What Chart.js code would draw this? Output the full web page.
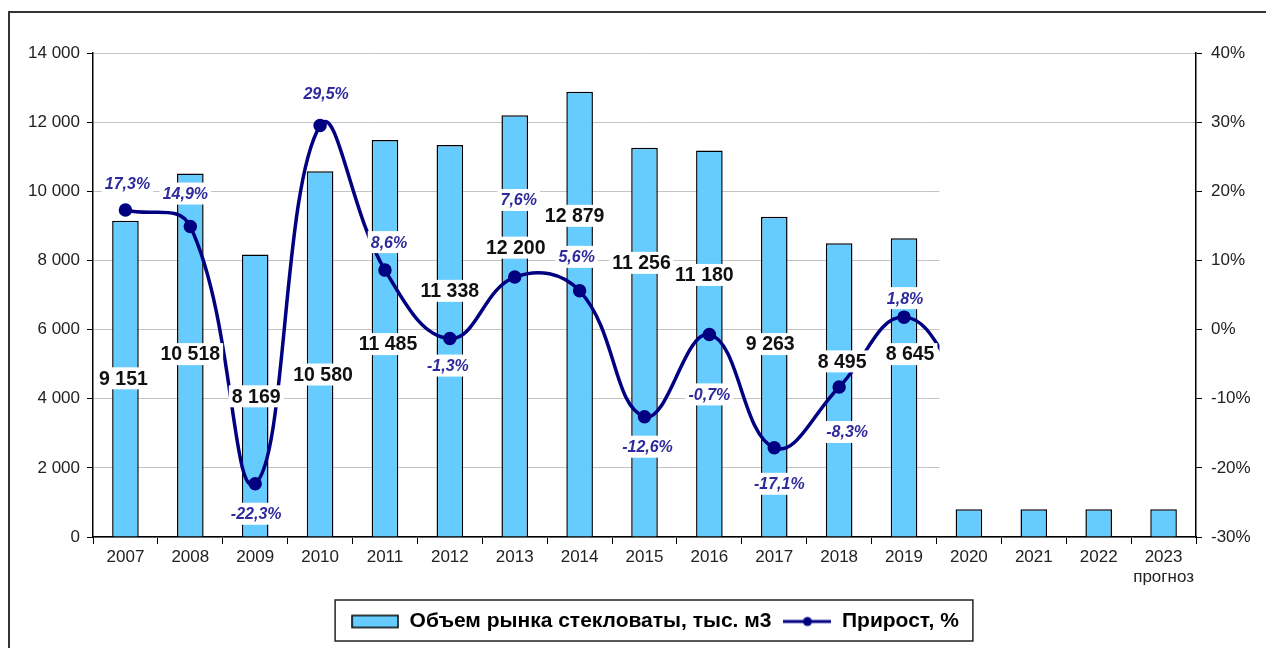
<!DOCTYPE html>
<html lang="ru">
<head>
<meta charset="utf-8">
<title>Объем рынка стекловаты</title>
<script src="https://cdn.jsdelivr.net/npm/chart.js@4.4.1/dist/chart.umd.min.js"></script>
<style>
  html, body { margin: 0; padding: 0; background: #fff; }
  #wrap { width: 1266px; height: 648px; position: relative; }
</style>
</head>
<body>
<div id="wrap"><canvas id="chart"></canvas></div>
<script>
// --- data ---
const years = ['2007', '2008', '2009', '2010', '2011', '2012', '2013', '2014', '2015',
    '2016', '2017', '2018', '2019', '2020', '2021', '2022', ['2023', 'прогноз']];
const volume = [9151, 10518, 8169, 10580, 11485, 11338, 12200, 12879, 11256,
    11180, 9263, 8495, 8645, 800, 800, 800, 800];
// 2020 point is hidden behind the blank patch, only its curve tail shows
const growth = [17.3, 14.9, -22.3, 29.5, 8.6, -1.3, 7.6, 5.6, -12.6,
    -0.7, -17.1, -8.3, 1.8, -9, null, null, null];
const volumeTicks = [0, 2000, 4000, 6000, 8000, 10000, 12000, 14000];
const growthTicks = [-30, -20, -10, 0, 10, 20, 30, 40];

// label placement (as in the source, labels were dragged by hand)
const barLabelAt = [4590, 5290, 4070, 4700, 5580, 7120, 8370, 9290, 7930, 7580, 5580, 5080, 5290];
const barLabelDx = [-2, 0, 1, 3, 3, 0, 1, -5, -3, -5, -4, 3, 6];
const growthLabelOff = [[2, -26], [-5, -33], [1, 30], [6, -32], [4, -28], [-2, 27], [4, -77],
    [-3, -34], [3, 30], [0, 60], [5, 36], [8, 45], [1, -19]];

const BAR_FILL = '#66ccff';
const LINE_COL = '#000080';
const PCT_COL = '#2e2a9c';
const FONT = 'Arial, "Liberation Sans", sans-serif';

function fmtThousands(v) {
    return String(v).replace(/\B(?=(\d{3})+(?!\d))/g, ' ');
}
function fmtPct(v) {
    return v.toFixed(1).replace('.', ',') + '%';
}

// legend swatches
function makeSwatch(kind) {
    const c = document.createElement('canvas');
    c.width = 48; c.height = 16;
    const g = c.getContext('2d');
    if (kind === 'bar') {
        g.fillStyle = BAR_FILL;
        g.fillRect(1, 2, 46, 12);
        g.strokeStyle = '#000';
        g.lineWidth = 1.5;
        g.strokeRect(1, 2, 46, 12);
    } else {
        g.strokeStyle = LINE_COL;
        g.lineWidth = 3;
        g.beginPath(); g.moveTo(0, 8); g.lineTo(48, 8); g.stroke();
        g.fillStyle = LINE_COL;
        g.beginPath(); g.arc(24, 8, 4.5, 0, Math.PI * 2); g.fill();
    }
    return c;
}

function labelBox(ctx, text, x, y, font, color) {
    ctx.font = font;
    const w = ctx.measureText(text).width;
    ctx.fillStyle = '#fff';
    ctx.fillRect(x - w / 2 - 3, y - 11, w + 6, 22);
    ctx.fillStyle = color;
    ctx.fillText(text, x, y + 1);
}

const LEGEND_SHIFT = 22;

const decorPlugin = {
    id: 'decor',
    afterLayout(chart) {
        // legend sits a little right of centre in the source
        const lg = chart.legend;
        if (lg) { lg.left += LEGEND_SHIFT; lg.right += LEGEND_SHIFT; }
    },
    afterDatasetsDraw(chart) {
        const ctx = chart.ctx;
        const xs = chart.scales.x, ys = chart.scales.y, yp = chart.scales.y1;
        const area = chart.chartArea;
        ctx.save();
        // blank patch over the forecast part of the plot (as in the source image)
        const left = (xs.getPixelForValue(12) + xs.getPixelForValue(13)) / 2 + 3;
        ctx.fillStyle = '#fff';
        ctx.fillRect(left, ys.getPixelForValue(11800), area.right - 1 - left, ys.getPixelForValue(900) - ys.getPixelForValue(11800));

        ctx.textAlign = 'center';
        ctx.textBaseline = 'middle';
        // growth labels
        growthLabelOff.forEach((off, i) => {
            const x = xs.getPixelForValue(i) + off[0];
            const y = yp.getPixelForValue(growth[i]) + off[1];
            labelBox(ctx, fmtPct(growth[i]), x, y, 'italic bold 16px ' + FONT, PCT_COL);
        });
        // volume labels
        barLabelAt.forEach((v, i) => {
            const x = xs.getPixelForValue(i) + barLabelDx[i];
            const y = ys.getPixelForValue(v);
            labelBox(ctx, fmtThousands(volume[i]), x, y, 'bold 19.5px ' + FONT, '#111');
        });
        ctx.restore();
    },
    afterDraw(chart) {
        const ctx = chart.ctx;
        ctx.save();
        // outer frame (only top and left edges are in view)
        ctx.strokeStyle = '#333';
        ctx.lineWidth = 2;
        ctx.beginPath();
        ctx.moveTo(9, 648); ctx.lineTo(9, 12); ctx.lineTo(1266, 12);
        ctx.stroke();
        // legend frame
        const lg = chart.legend;
        if (lg && lg.legendHitBoxes && lg.legendHitBoxes.length) {
            const hb = lg.legendHitBoxes;
            const l = Math.min(...hb.map(b => b.left)) - 16;
            const r = Math.max(...hb.map(b => b.left + b.width)) + 14;
            ctx.strokeStyle = '#222';
            ctx.lineWidth = 1.5;
            ctx.strokeRect(l, lg.top + 1, r - l, lg.bottom - lg.top - 2);
        }
        ctx.restore();
    }
};

Chart.defaults.font.family = FONT;
Chart.defaults.color = '#222';

new Chart(document.getElementById('chart'), {
    data: {
        labels: years,
        datasets: [
            {
                type: 'line',
                label: 'Прирост, %',
                data: growth,
                yAxisID: 'y1',
                borderColor: LINE_COL,
                backgroundColor: LINE_COL,
                borderWidth: 3.5,
                pointRadius: 5,
                pointHoverRadius: 5,
                tension: 0.42,
                order: 0
            },
            {
                type: 'bar',
                label: 'Объем рынка стекловаты, тыс. м3',
                data: volume,
                yAxisID: 'y',
                backgroundColor: BAR_FILL,
                borderColor: '#000',
                borderWidth: 1.5,
                categoryPercentage: 1,
                barPercentage: 0.41,
                order: 1
            }
        ]
    },
    options: {
        responsive: true,
        maintainAspectRatio: false,
        animation: false,
        layout: { padding: { left: 10, right: 10, top: 53, bottom: 6 } },
        plugins: {
            tooltip: { enabled: false },
            legend: {
                position: 'bottom',
                labels: {
                    usePointStyle: true,
                    pointStyleWidth: 48,
                    padding: 12,
                    color: '#111',
                    font: { size: 21, weight: 'bold' },
                    generateLabels: () => [
                        { text: 'Объем рынка стекловаты, тыс. м3', pointStyle: makeSwatch('bar'), fillStyle: BAR_FILL, strokeStyle: '#000', lineWidth: 0, hidden: false, datasetIndex: 1 },
                        { text: 'Прирост, %', pointStyle: makeSwatch('line'), fillStyle: LINE_COL, strokeStyle: LINE_COL, lineWidth: 0, hidden: false, datasetIndex: 0 }
                    ]
                }
            }
        },
        scales: {
            x: {
                afterFit: s => { s.height = 62; },
                grid: { drawOnChartArea: false, tickLength: 7, color: '#000', offset: true },
                border: { color: '#000', width: 1.5 },
                ticks: { font: { size: 17 }, color: '#222', padding: 3, maxRotation: 0, minRotation: 0, autoSkip: false }
            },
            y: {
                position: 'left',
                min: 0,
                max: 14000,
                afterFit: s => { s.width = 83; },
                afterBuildTicks: s => { s.ticks = volumeTicks.map(v => ({ value: v })); },
                grid: { color: '#c4c4c4', lineWidth: 1, tickLength: 6, tickColor: '#000' },
                border: { color: '#000', width: 1.5 },
                ticks: { font: { size: 17 }, color: '#222', padding: 7, callback: v => fmtThousands(v) }
            },
            y1: {
                position: 'right',
                min: -30,
                max: 40,
                afterFit: s => { s.width = 60; },
                afterBuildTicks: s => { s.ticks = growthTicks.map(v => ({ value: v })); },
                grid: { drawOnChartArea: false, tickLength: 6, color: '#000' },
                border: { color: '#000', width: 1.5 },
                ticks: { font: { size: 17 }, color: '#222', padding: 9, callback: v => v + '%' }
            }
        }
    },
    plugins: [decorPlugin]
});
</script>
</body>
</html>
